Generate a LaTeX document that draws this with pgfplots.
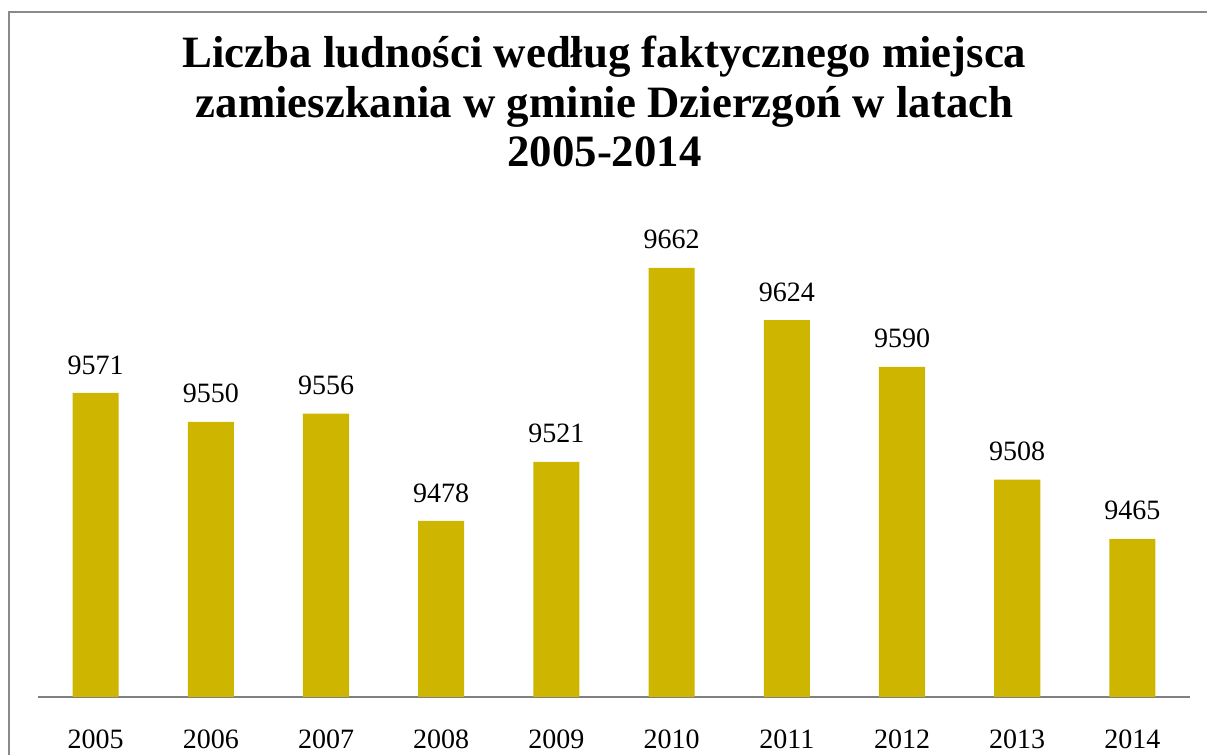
\documentclass[border=0pt]{standalone}
\usepackage{fontspec}
\setmainfont{Liberation Serif}
\usepackage{pgfplots}
\pgfplotsset{compat=1.18}
\definecolor{barcol}{RGB}{205,181,0}
\definecolor{framecol}{RGB}{138,138,138}
\definecolor{axiscol}{RGB}{128,128,128}

\begin{document}
\begin{tikzpicture}
% page = 1207x755 px at 0.5pt per px, origin at lower left of plot area
\useasboundingbox (-19pt,-29pt) rectangle (584.5pt,348.5pt);
\draw[framecol, line width=0.7pt] (-14.5pt,-29pt) -- (-14.5pt,342.5pt) -- (584.5pt,342.5pt);
\begin{axis}[
    at={(0pt,0pt)}, anchor=south west,
    scale only axis,
    width=576pt, height=240.75pt,
    xmin=-0.5, xmax=9.5,
    ymin=9350, ymax=9700,
    axis x line=bottom,
    axis y line=none,
    x axis line style={-, draw=axiscol, line width=0.75pt},
    xtick=data,
    xticklabels={2005,2006,2007,2008,2009,2010,2011,2012,2013,2014},
    xtick style={draw=none},
    xticklabel style={anchor=base, yshift=-21.5pt, font=\fontsize{14}{16}\selectfont},
    ybar, bar width=0.4, bar shift=0pt,
    clip=false,
    nodes near coords,
    /pgf/number format/assume math mode=true,
    /pgf/number format/1000 sep={},
    every node near coord/.append style={anchor=south, inner sep=0pt, yshift=9.1pt, font=\fontsize{14}{16}\selectfont, text=black},
]
\addplot[fill=barcol, draw=none] coordinates {
    (0,9571) (1,9550) (2,9556) (3,9478) (4,9521)
    (5,9662) (6,9624) (7,9590) (8,9508) (9,9465)
};
\end{axis}
\node[anchor=base, font=\fontsize{22.4}{25}\selectfont\bfseries] at (283.25pt,314.5pt) {Liczba ludności według faktycznego miejsca};
\node[anchor=base, font=\fontsize{22.4}{25}\selectfont\bfseries] at (283.25pt,289.75pt) {zamieszkania w gminie Dzierzgoń w latach};
\node[anchor=base, font=\fontsize{22.4}{25}\selectfont\bfseries] at (283.25pt,265pt) {2005-2014};
\end{tikzpicture}
\end{document}
